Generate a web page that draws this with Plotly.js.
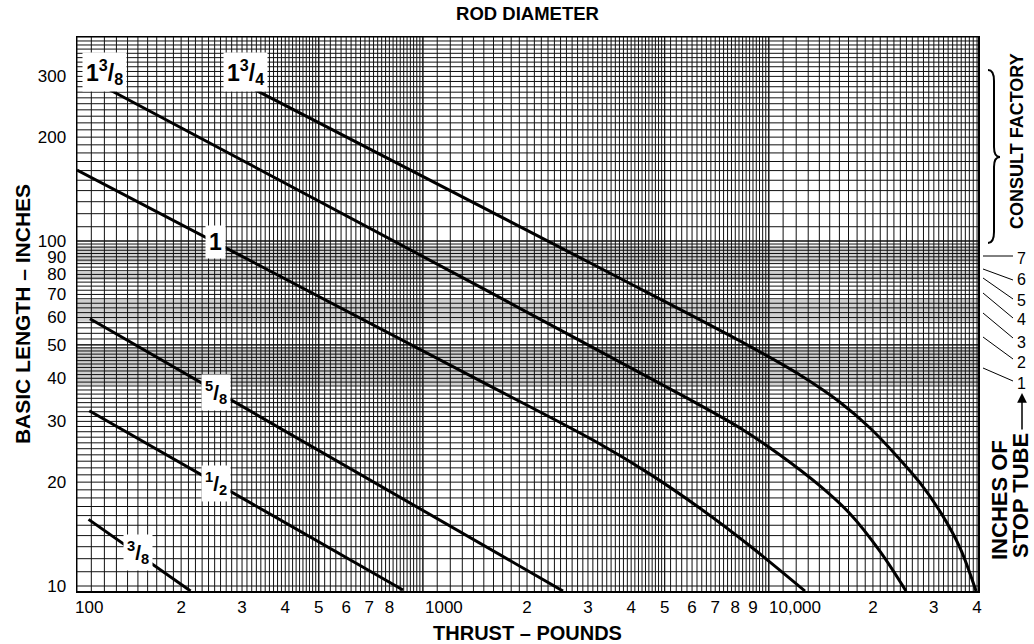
<!DOCTYPE html>
<html><head><meta charset="utf-8">
<script src="https://cdn.plot.ly/plotly-3.0.1.min.js"></script>
<style>html,body{margin:0;padding:0;background:#fff}#chart{width:1034px;height:644px}</style>
</head><body><div id="chart"></div>
<script>
// ---------- DATA ----------
const rodLabels = ['<sup>3</sup>/<sub>8</sub>', '<sup>1</sup>/<sub>2</sub>', '<sup>5</sup>/<sub>8</sub>', '1', '1<sup>3</sup>/<sub>8</sub>', '1<sup>3</sup>/<sub>4</sub>'];

const thrust38 = [108, 213];
const length38 = [15.6, 9.67];

const thrust12 = [108.5, 876];
const length12 = [32.2, 9.74];

const thrust58 = [109, 2541];
const length58 = [59.5, 9.67];

const thrust1 = [100, 1396, 3251, 4535, 6326, 8826, 12726];
const length1 = [160.6, 40.3, 25.8, 21.1, 16.8, 13.06, 9.67];

const thrust138 = [118.9, 1462, 5880, 8257, 10775, 14060, 17170, 20970, 24930];
const length138 = [281, 73.6, 34.8, 28.7, 23.97, 19.5, 16.2, 12.6, 9.67];

const thrust134 = [312.2, 3251, 8257, 12310, 16060, 19620, 23630, 27370, 31680, 35710, 39720];
const length134 = [281, 83.5, 51.3, 40.9, 34.1, 28.7, 23.6, 19.9, 16.1, 12.9, 9.67];

// curve label anchor points (thrust, length)
const labelThrust = [150, 252, 252, 252, 119.7, 308];
const labelLength = [12.5, 19.8, 36.5, 99.3, 309, 309];

// shaded stop-tube bands (basic length ranges)
const bandLow  = [86.6, 77.1, 58.3, 38.2];
const bandHigh = [96.8, 81.3, 67.4, 49.3];

// stop tube scale
const stopTubeText = ['1', '2', '3', '4', '5', '6', '7'];

// ticks
const xTickVals = [100, 200, 300, 400, 500, 600, 700, 800, 1000, 2000, 3000, 4000, 5000, 6000, 7000, 8000, 9000, 10000, 20000, 30000, 40000];
const xTickText = ['100', '2', '3', '4', '5', '6', '7', '8', '1000', '2', '3', '4', '5', '6', '7', '8', '9', '10,000', '2', '3', '4'];
const xDecadeVals = [100, 1000, 10000];
const yTickVals = [10, 20, 30, 40, 50, 60, 70, 80, 90, 100, 200, 300];
const yTickText = ['10', '20', '30', '40', '50', '60', '70', '80', '90', '100', '200', '300'];

// grid specs: [start, end, step]
const xGridSpecs = [[100, 500, 10], [500, 1000, 20], [1000, 5000, 100], [5000, 10000, 200], [10000, 41000, 1000]];
const yGridSpecs = [[10, 50, 1], [50, 100, 2], [100, 400, 10]];

// ---------- BUILD ----------
const FONT = 'Liberation Sans, Arial, Helvetica, sans-serif';
// decade labels are drawn left-aligned at their grid line (annotations below); the rest are centred axis ticks
const xTickShown = xTickVals.map((v, i) => xDecadeVals.includes(v) ? '' : xTickText[i]);

const gx = [], gy = [];
xGridSpecs.forEach(([a, b, s]) => { for (let v = a; v <= b + 1e-9; v += s) { gx.push(v, v, null); gy.push(8, 500, null); } });
yGridSpecs.forEach(([a, b, s]) => { for (let v = a; v <= b + 1e-9; v += s) { gx.push(80, 50000, null); gy.push(v, v, null); } });

const traces = [];
bandLow.forEach((lo, i) => {
  traces.push({ x: [80, 50000, 50000, 80], y: [lo, lo, bandHigh[i], bandHigh[i]], type: 'scatter', mode: 'lines',
    fill: 'toself', fillcolor: '#d0d0d0', line: { width: 0 }, hoverinfo: 'skip', showlegend: false });
});
traces.push({ x: gx, y: gy, type: 'scatter', mode: 'lines', line: { color: '#111', width: 1 }, hoverinfo: 'skip', showlegend: false });

const curves = [[thrust38, length38, 'linear'], [thrust12, length12, 'linear'], [thrust58, length58, 'linear'],
  [thrust1, length1, 'spline'], [thrust138, length138, 'spline'], [thrust134, length134, 'spline']];
curves.forEach(([x, y, shape], i) => {
  traces.push({ x: x, y: y, type: 'scatter', mode: 'lines', name: rodLabels[i],
    line: { color: '#000', width: 3, shape: shape, smoothing: 1 }, showlegend: false });
});

// pixel -> paper helpers for decorations outside the plot
const L = 77, R = 978, T = 37, B = 591;
const fx = px => (px - L) / (R - L);
const fy = py => (B - py) / (B - T);

const annotations = [];
rodLabels.forEach((t, i) => {
  const big = (i >= 3);
  annotations.push({ x: Math.log10(labelThrust[i]), y: Math.log10(labelLength[i]), xref: 'x', yref: 'y',
    xanchor: 'center', yanchor: 'middle',
    text: '<b>' + t + '</b>', showarrow: false, bgcolor: '#fff', borderpad: 3,
    font: { family: FONT, size: big ? 23 : 21, color: '#000' } });
});

const decadeShift = [-4, 0, -2];
xDecadeVals.forEach((v, i) => {
  annotations.push({ x: Math.log10(v), y: fy(607), xref: 'x', yref: 'paper', xanchor: 'left', yanchor: 'middle',
    xshift: decadeShift[i], text: xTickText[xTickVals.indexOf(v)], showarrow: false,
    font: { family: FONT, size: 17, color: '#000' } });
});

const stopLabelY = [383, 363, 342, 320, 300, 279, 258];
const leaderStartY = [368, 337, 313, 293, 278, 269, 256];
const leaderEndY = [381, 359, 338, 318, 299, 280, 256];
const shapes = [];
stopTubeText.forEach((t, i) => {
  annotations.push({ x: fx(1021), y: fy(stopLabelY[i]), xref: 'paper', yref: 'paper', xanchor: 'center', yanchor: 'middle',
    text: t, showarrow: false, font: { family: FONT, size: 16, color: '#000' } });
  shapes.push({ type: 'line', xref: 'paper', yref: 'paper', x0: fx(983), y0: fy(leaderStartY[i]), x1: fx(1013), y1: fy(leaderEndY[i]),
    line: { color: '#000', width: 1 } });
});

annotations.push({ x: fx(1017), y: fy(141), xref: 'paper', yref: 'paper', xanchor: 'center', yanchor: 'middle',
  text: '<b>CONSULT FACTORY</b>', textangle: -90, showarrow: false, font: { family: FONT, size: 18, color: '#000' } });
annotations.push({ x: fx(999), y: fy(500), xref: 'paper', yref: 'paper', xanchor: 'center', yanchor: 'middle',
  text: '<b>INCHES OF</b>', textangle: -90, showarrow: false, font: { family: FONT, size: 22, color: '#000' } });
annotations.push({ x: fx(1020), y: fy(496), xref: 'paper', yref: 'paper', xanchor: 'center', yanchor: 'middle',
  text: '<b>STOP TUBE</b>', textangle: -90, showarrow: false, font: { family: FONT, size: 22, color: '#000' } });
annotations.push({ x: fx(1022), y: fy(393), xref: 'paper', yref: 'paper', text: '', showarrow: true, ax: 0, ay: 38,
  arrowhead: 2, arrowsize: 1.3, arrowwidth: 1.5, arrowcolor: '#000' });

const P = (px, py) => fx(px).toFixed(5) + ',' + fy(py).toFixed(5);
shapes.push({ type: 'path', xref: 'paper', yref: 'paper', line: { color: '#000', width: 2 },
  path: 'M' + P(988, 70) + ' Q' + P(994, 70) + ' ' + P(994, 81) + ' L' + P(994, 147) + ' Q' + P(994, 157) + ' ' + P(1000, 157) +
        ' Q' + P(994, 157) + ' ' + P(994, 167) + ' L' + P(994, 232) + ' Q' + P(994, 243) + ' ' + P(988, 243) });

const layout = {
  width: 1034, height: 644,
  margin: { l: L, r: 1034 - R, t: T, b: 644 - B },
  paper_bgcolor: '#fff', plot_bgcolor: '#fff',
  font: { family: FONT, color: '#000', size: 17 },
  title: { text: '<b>ROD DIAMETER</b>', font: { family: FONT, size: 18.5, color: '#000' }, x: 0.5, xref: 'paper',
    y: 1 - 14 / 644, yref: 'container', yanchor: 'middle' },
  xaxis: { type: 'log', range: [2, 2 + (R - L) / 345.9], showgrid: false, zeroline: false,
    tickmode: 'array', tickvals: xTickVals, ticktext: xTickShown, ticks: '', ticklabelstandoff: 0, tickangle: 0,
    tickfont: { family: FONT, size: 17, color: '#000' },
    showline: true, mirror: true, linecolor: '#000', linewidth: 1.5,
    title: { text: '<b>THRUST – POUNDS</b>', font: { family: FONT, size: 20, color: '#000' }, standoff: 15 } },
  yaxis: { type: 'log', range: [1 - 5 / 345, 1 + 549 / 345], showgrid: false, zeroline: false,
    tickmode: 'array', tickvals: yTickVals, ticktext: yTickText, ticks: '', ticklabelstandoff: 6,
    tickfont: { family: FONT, size: 17, color: '#000' },
    showline: true, mirror: true, linecolor: '#000', linewidth: 1.5,
    title: { text: '<b>BASIC LENGTH – INCHES</b>', font: { family: FONT, size: 21, color: '#000' }, standoff: 1 } },
  annotations: annotations,
  shapes: shapes,
  showlegend: false
};

Plotly.newPlot('chart', traces, layout, { staticPlot: true, displayModeBar: false });
</script></body></html>
